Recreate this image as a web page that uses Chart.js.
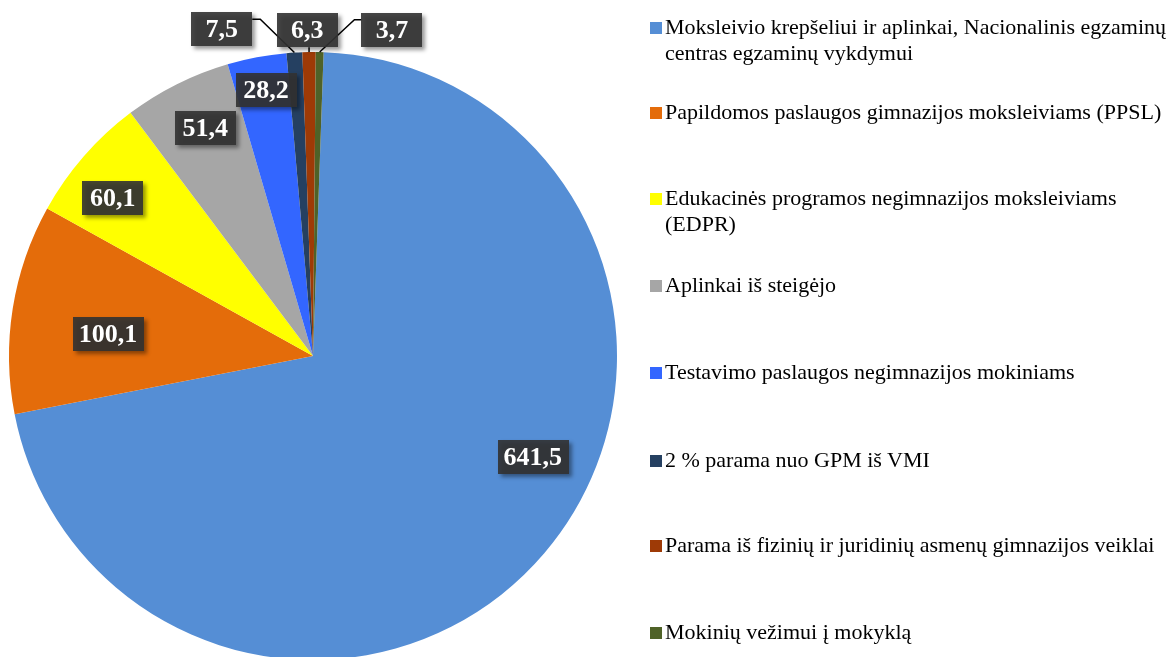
<!DOCTYPE html>
<html>
<head>
<meta charset="utf-8">
<script src="https://cdn.jsdelivr.net/npm/chart.js@4.4.1/dist/chart.umd.min.js"></script>
<style>
  html, body { margin: 0; padding: 0; background: #fff; width: 1168px; height: 657px; overflow: hidden; }
  #wrap { position: relative; width: 1168px; height: 657px; overflow: hidden; }
  #c { position: absolute; left: 0; top: 0; }
  #legend { position: absolute; left: 650px; top: 0; width: 518px; font-family: "Liberation Serif", "Times New Roman", serif; font-size: 22px; color: #000; }
  .item { position: absolute; left: 0; display: flex; align-items: flex-start; line-height: 26px; width: 518px; }
  .sw { width: 12px; height: 12px; flex: 0 0 12px; margin-top: 8px; margin-right: 3px; }
  .txt { width: 503px; }
</style>
</head>
<body>
<div id="wrap">
  <canvas id="c" width="1168" height="720"></canvas>
  <div id="legend"></div>
</div>
<script>
const categories = [
  "Moksleivio krepšeliui ir aplinkai, Nacionalinis egzaminų centras egzaminų vykdymui",
  "Papildomos paslaugos gimnazijos moksleiviams (PPSL)",
  "Edukacinės programos negimnazijos moksleiviams (EDPR)",
  "Aplinkai iš steigėjo",
  "Testavimo paslaugos negimnazijos mokiniams",
  "2 % parama nuo GPM iš VMI",
  "Parama iš fizinių ir juridinių asmenų gimnazijos veiklai",
  "Mokinių vežimui į mokyklą"
];
const values = [641.5, 100.1, 60.1, 51.4, 28.2, 7.5, 6.3, 3.7];
const colors = ["#558ED5", "#E46C0A", "#FFFF00", "#A6A6A6", "#3366FF", "#254061", "#9E3A06", "#4F6228"];

// label placement (style): angle clockwise from top (deg), radius fraction, leader type
const labelPlacement = [
  { ang: 114.7, r: 0.796 },
  { ang: 276.1, r: 0.678 },
  { ang: 308.3, r: 0.839 },
  { ang: 334.7, r: 0.83 },
  { ang: 350.0, r: 0.888 },
  { ang: 344.4, r: 1.116, leader: "right" },
  { ang: 359.0, r: 1.072, leader: "down" },
  { ang: 13.6,  r: 1.104, leader: "left" }
];

function fmt(v) { return v.toFixed(1).replace(".", ","); }

const labelPlugin = {
  id: "boxLabels",
  afterDatasetsDraw(chart) {
    const ctx = chart.ctx;
    const meta = chart.getDatasetMeta(0);
    ctx.save();
    ctx.font = "bold 26px 'Liberation Serif', 'Times New Roman', serif";
    const boxes = meta.data.map((arc, i) => {
      const p = labelPlacement[i];
      const a = (p.ang - 90) * Math.PI / 180;
      const R = arc.outerRadius;
      const cx = arc.x + Math.cos(a) * R * p.r;
      const cy = arc.y + Math.sin(a) * R * p.r;
      const text = fmt(values[i]);
      const w = Math.max(ctx.measureText(text).width + 12, 61);
      const h = 34;
      return { cx, cy, w, h, text, arc, p };
    });
    // leader lines
    ctx.strokeStyle = "#000";
    ctx.lineWidth = 1.5;
    boxes.forEach(b => {
      if (!b.p.leader) return;
      const arc = b.arc;
      const mid = (arc.startAngle + arc.endAngle) / 2;
      const px = arc.x + Math.cos(mid) * arc.outerRadius;
      const py = arc.y + Math.sin(mid) * arc.outerRadius;
      const ey = b.cy - b.h / 2 + 7;
      ctx.beginPath();
      if (b.p.leader === "right") {
        ctx.moveTo(b.cx + b.w / 2, ey);
        ctx.lineTo(b.cx + b.w / 2 + 8, ey);
        ctx.lineTo(px, py);
      } else if (b.p.leader === "left") {
        ctx.moveTo(b.cx - b.w / 2, ey);
        ctx.lineTo(b.cx - b.w / 2 - 7, ey);
        ctx.lineTo(px, py);
      } else {
        ctx.moveTo(px, b.cy + b.h / 2);
        ctx.lineTo(px, py);
      }
      ctx.stroke();
    });
    // boxes
    boxes.forEach(b => {
      ctx.save();
      ctx.shadowColor = "rgba(0,0,0,0.45)";
      ctx.shadowBlur = 4;
      ctx.shadowOffsetX = 3;
      ctx.shadowOffsetY = 3;
      ctx.fillStyle = "rgba(50,50,50,0.9)";
      ctx.fillRect(Math.round(b.cx - b.w / 2), Math.round(b.cy - b.h / 2), Math.round(b.w), b.h);
      ctx.restore();
      ctx.fillStyle = "#fff";
      ctx.textAlign = "center";
      ctx.textBaseline = "middle";
      ctx.fillText(b.text, b.cx, b.cy + 1);
    });
    ctx.restore();
  }
};

new Chart(document.getElementById("c"), {
  type: "pie",
  data: {
    labels: categories,
    datasets: [{
      data: values,
      backgroundColor: colors,
      borderWidth: 0
    }]
  },
  options: {
    responsive: false,
    animation: false,
    rotation: 2,
    layout: { padding: { left: 9, right: 551, top: 52, bottom: 60 } },
    plugins: {
      legend: { display: false },
      tooltip: { enabled: false }
    }
  },
  plugins: [labelPlugin]
});

// HTML legend
const legendTops = [14, 99, 185, 272, 359, 447, 532, 619];
const leg = document.getElementById("legend");
categories.forEach((c, i) => {
  const it = document.createElement("div");
  it.className = "item";
  it.style.top = legendTops[i] + "px";
  const sw = document.createElement("div");
  sw.className = "sw";
  sw.style.background = colors[i];
  const t = document.createElement("div");
  t.className = "txt";
  t.textContent = c;
  it.appendChild(sw);
  it.appendChild(t);
  leg.appendChild(it);
});
</script>
</body>
</html>
